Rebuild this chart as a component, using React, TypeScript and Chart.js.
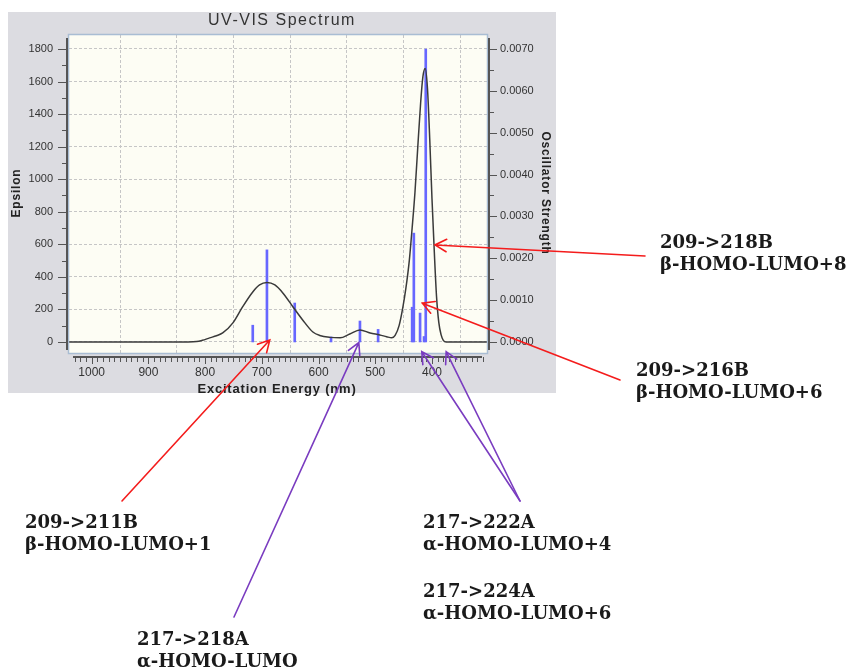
import React, { useEffect, useRef } from 'react';
import { Chart, registerables } from 'chart.js';

Chart.register(...registerables);

// ---- data ----
const curveNm = [1040, 900, 830, 815, 805, 792, 780, 769, 751, 734, 716, 704, 691, 677, 663, 645, 628, 610, 598, 580, 562, 545, 527, 509, 492, 480, 471, 465, 458, 452, 446, 440, 435, 430, 425, 420, 416, 412, 408, 404, 400, 396, 392, 388, 384, 380, 375, 303];
const curveEps = [0, 0, 0, 2, 10, 25, 38, 55, 117, 215, 307, 350, 365, 350, 301, 215, 135, 61, 40, 28, 25, 49, 74, 55, 43, 32, 25, 40, 100, 200, 330, 500, 700, 920, 1200, 1470, 1630, 1680, 1560, 1250, 880, 560, 280, 120, 45, 10, 0, 0];

const stickNm = [716, 691, 642, 578, 527, 495, 435, 432, 421, 414, 411];
const stickF = [0.0004, 0.0022, 0.00093, 0.00012, 0.0005, 0.0003, 0.00083, 0.0026, 0.00069, 0.00013, 0.007];

const xMajorTicks = [1000, 900, 800, 700, 600, 500, 400];
const epsTicks = [0, 200, 400, 600, 800, 1000, 1200, 1400, 1600, 1800];
const fTicks = [0, 0.001, 0.002, 0.003, 0.004, 0.005, 0.006, 0.007];

const titleText = 'UV-VIS Spectrum';
const xTitle = 'Excitation Energy (nm)';
const yTitle = 'Epsilon';
const y2Title = 'Oscillator Strength';

// annotation texts and arrow targets (targets in data units: nm, epsilon)
const noteTexts = [
  ['209->218B', 'β-HOMO-LUMO+8'],
  ['209->216B', 'β-HOMO-LUMO+6'],
  ['209->211B', 'β-HOMO-LUMO+1'],
  ['217->218A', 'α-HOMO-LUMO'],
  ['217->222A', 'α-HOMO-LUMO+4'],
  ['217->224A', 'α-HOMO-LUMO+6'],
];
const arrowTargets = [
  { note: 0, nm: 394.7, eps: 596 },
  { note: 1, nm: 417, eps: 238 },
  { note: 2, nm: 686, eps: 12 },
  { note: 3, nm: 529, eps: -4 },
  { note: 4, nm: 418, eps: -60 },
  { note: 4, nm: 375, eps: -60 },
];

// ---- layout / style (pixels) ----
const RED = '#f41c1c';
const PURPLE = '#7a3cc0';
const noteLayout = [
  { x: 660, y: 248, color: RED, tail: [645, 256] },
  { x: 636, y: 376, color: RED, tail: [620, 380] },
  { x: 25, y: 528, color: RED, tail: [122, 501] },
  { x: 137, y: 645, color: PURPLE, tail: [234, 617] },
  { x: 423, y: 528, color: PURPLE, tail: [520, 501] },
  { x: 423, y: 597, color: PURPLE, tail: null },
];

const SANS = '"Liberation Sans", Arial, sans-serif';

function drawArrow(ctx: CanvasRenderingContext2D, x1: number, y1: number, x2: number, y2: number, color: string) {
  const ang = Math.atan2(y2 - y1, x2 - x1);
  const len = 13;
  const spread = 0.5;
  ctx.save();
  ctx.strokeStyle = color;
  ctx.lineWidth = 1.6;
  ctx.lineCap = 'round';
  ctx.beginPath();
  ctx.moveTo(x1, y1);
  ctx.lineTo(x2, y2);
  ctx.moveTo(x2 - len * Math.cos(ang - spread), y2 - len * Math.sin(ang - spread));
  ctx.lineTo(x2, y2);
  ctx.lineTo(x2 - len * Math.cos(ang + spread), y2 - len * Math.sin(ang + spread));
  ctx.stroke();
  ctx.restore();
}

const decor = {
  id: 'decor',
  beforeDraw(chart: any) {
    const { ctx, chartArea: a } = chart;
    ctx.save();
    ctx.fillStyle = '#ffffff';
    ctx.fillRect(0, 0, chart.width, chart.height);
    ctx.fillStyle = '#dcdce1';
    ctx.fillRect(8, 12, 548, 381);
    ctx.fillStyle = '#fdfdf4';
    ctx.fillRect(a.left, a.top, a.right - a.left, a.bottom - a.top);
    ctx.restore();
  },
  afterDraw(chart: any) {
    const { ctx, chartArea: a } = chart;
    const xs = chart.scales.x;
    const ys = chart.scales.y;
    const y2s = chart.scales.y2;
    ctx.save();
    // plot border
    ctx.strokeStyle = '#a9bdd3';
    ctx.lineWidth = 1.5;
    ctx.strokeRect(a.left - 0.5, a.top - 0.5, a.right - a.left + 1, a.bottom - a.top + 1);

    // axis lines
    ctx.strokeStyle = '#555';
    ctx.lineWidth = 2;
    const lx = a.left - 2;
    const rx = a.right + 2;
    const by = a.bottom + 4;
    ctx.beginPath();
    ctx.moveTo(lx, a.top + 3); ctx.lineTo(lx, a.bottom - 3);
    ctx.moveTo(rx, a.top + 3); ctx.lineTo(rx, a.bottom - 3);
    ctx.moveTo(a.left + 4, by); ctx.lineTo(a.right - 5, by);
    ctx.stroke();

    // tick marks
    ctx.lineWidth = 1;
    ctx.strokeStyle = '#555';
    ctx.beginPath();
    for (let v = 0; v <= 1800; v += 100) {
      const y = Math.round(ys.getPixelForValue(v)) + 0.5;
      ctx.moveTo(lx - (v % 200 === 0 ? 9 : 5), y); ctx.lineTo(lx, y);
    }
    for (let k = 0; k <= 14; k++) {
      const y = Math.round(y2s.getPixelForValue(k * 0.0005)) + 0.5;
      ctx.moveTo(rx, y); ctx.lineTo(rx + (k % 2 === 0 ? 8 : 5), y);
    }
    for (let v = 310; v <= 1030; v += 10) {
      const x = Math.round(xs.getPixelForValue(v)) + 0.5;
      ctx.moveTo(x, by); ctx.lineTo(x, by + (v % 100 === 0 ? 7 : 5));
    }
    ctx.stroke();

    // titles
    ctx.fillStyle = '#333';
    ctx.textAlign = 'center';
    ctx.textBaseline = 'middle';
    (ctx as any).letterSpacing = '1.5px';
    ctx.font = `16px ${SANS}`;
    ctx.fillText(titleText, 282, 21);
    (ctx as any).letterSpacing = '0.8px';
    ctx.fillStyle = '#222';
    ctx.font = `bold 13px ${SANS}`;
    ctx.fillText(xTitle, 277, 389);
    ctx.font = `bold 12px ${SANS}`;
    ctx.save();
    ctx.translate(17, 193);
    ctx.rotate(-Math.PI / 2);
    ctx.fillText(yTitle, 0, 0);
    ctx.restore();
    ctx.save();
    ctx.translate(545, 193);
    ctx.rotate(Math.PI / 2);
    ctx.fillText(y2Title, 0, 0);
    ctx.restore();
    (ctx as any).letterSpacing = '0px';

    // annotation arrows
    arrowTargets.forEach((t) => {
      const L = noteLayout[t.note];
      if (!L.tail) return;
      const px = xs.getPixelForValue(t.nm);
      const py = ys.getPixelForValue(t.eps);
      drawArrow(ctx, L.tail[0], L.tail[1], px, py, L.color);
    });

    // annotation texts
    ctx.fillStyle = '#1a1a1a';
    ctx.textAlign = 'left';
    ctx.textBaseline = 'alphabetic';
    ctx.font = `bold 18px "DejaVu Serif", serif`;
    noteTexts.forEach((lines, i) => {
      const L = noteLayout[i];
      lines.forEach((s, j) => ctx.fillText(s, L.x, L.y + j * 22));
    });
    ctx.restore();
  },
};

export default function App() {
  const ref = useRef<HTMLCanvasElement | null>(null);
  useEffect(() => {
    const canvas = ref.current;
    if (!canvas) return;
    const chart = new Chart(canvas, {
      type: 'line',
      data: {
        datasets: [
          {
            type: 'line',
            data: curveNm.map((x, i) => ({ x, y: curveEps[i] })),
            yAxisID: 'y',
            borderColor: '#3a3a3a',
            borderWidth: 1.5,
            pointRadius: 0,
            cubicInterpolationMode: 'monotone',
            fill: false,
            order: 0,
          } as any,
          {
            type: 'bar',
            data: stickNm.map((x, i) => ({ x, y: stickF[i] })),
            yAxisID: 'y2',
            backgroundColor: '#6767ff',
            borderWidth: 0,
            barThickness: 2,
            grouped: false,
            order: 1,
          } as any,
        ],
      },
      options: {
        animation: false,
        responsive: false,
        maintainAspectRatio: false,
        layout: { padding: { top: 35, left: 0, right: 0, bottom: 0 } },
        plugins: {
          legend: { display: false },
          title: { display: false },
          tooltip: { enabled: false },
        },
        scales: {
          x: {
            type: 'linear',
            position: 'bottom',
            reverse: true,
            min: 303,
            max: 1040,
            offset: false,
            afterBuildTicks: (s: any) => { s.ticks = xMajorTicks.map((v) => ({ value: v })); },
            afterFit: (s: any) => { s.height = 318; },
            grid: { drawTicks: false, color: '#c6c6c6', lineWidth: 1 },
            border: { display: false, dash: [3, 2] },
            ticks: {
              padding: 12,
              autoSkip: false,
              maxRotation: 0,
              color: '#333',
              font: { family: SANS, size: 12 },
              callback: (v: any) => String(v),
            },
          },
          y: {
            type: 'linear',
            position: 'left',
            min: -68,
            max: 1886,
            afterBuildTicks: (s: any) => { s.ticks = epsTicks.map((v) => ({ value: v })); },
            afterFit: (s: any) => { s.width = 69; },
            grid: { drawTicks: false, color: '#c6c6c6', lineWidth: 1 },
            border: { display: false, dash: [3, 2] },
            ticks: {
              padding: 16,
              color: '#333',
              font: { family: SANS, size: 11 },
              callback: (v: any) => String(v),
            },
          },
          y2: {
            type: 'linear',
            position: 'right',
            min: -0.000264,
            max: 0.007334,
            afterBuildTicks: (s: any) => { s.ticks = fTicks.map((v) => ({ value: v })); },
            afterFit: (s: any) => { s.width = 363; },
            grid: { display: false, drawTicks: false },
            border: { display: false },
            ticks: {
              padding: 13,
              color: '#333',
              font: { family: SANS, size: 11 },
              callback: (v: any) => Number(v).toFixed(4),
            },
          },
        },
      } as any,
      plugins: [decor],
    });
    return () => chart.destroy();
  }, []);
  return (
    <canvas
      ref={ref}
      width={850}
      height={671}
      style={{ position: 'absolute', left: 0, top: 0, width: 850, height: 671, display: 'block' }}
    />
  );
}
